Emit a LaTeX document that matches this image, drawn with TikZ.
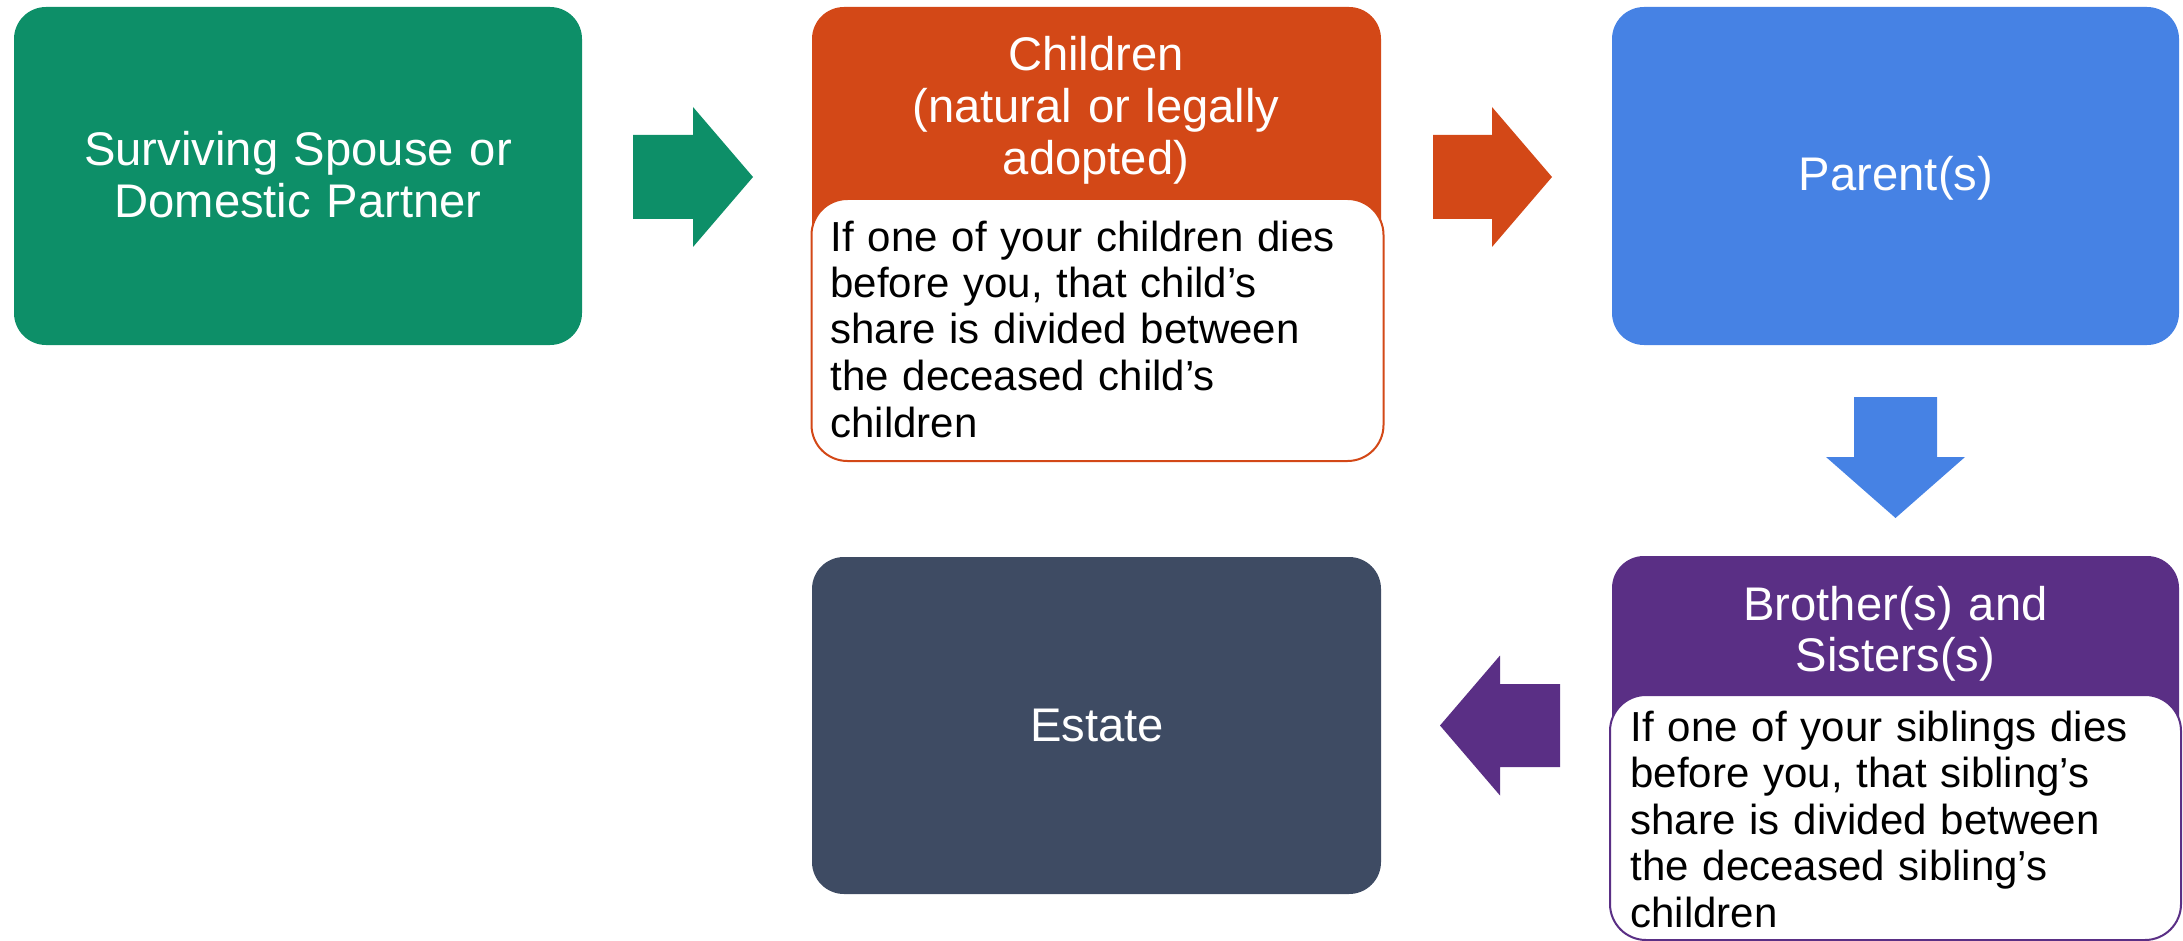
\documentclass[tikz,border=0pt]{standalone}
\usepackage{fontspec}
\setmainfont{Liberation Sans}
\definecolor{cgreen}{RGB}{13,143,104}
\definecolor{corange}{RGB}{211,72,23}
\definecolor{cblue}{RGB}{70,130,228}
\definecolor{cpurple}{RGB}{90,47,133}
\definecolor{cnavy}{RGB}{62,75,99}
\begin{document}
\begin{tikzpicture}[x=0.5pt,y=-0.5pt,
  box/.style={rectangle, rounded corners=16pt, inner sep=0pt, outer sep=0pt, draw=none},
  notebox/.style={rectangle, rounded corners=18pt, inner sep=0pt, outer sep=0pt, fill=white, line width=1pt},
  headtext/.style={text=white, font=\fontsize{23.6pt}{25.9pt}\selectfont, align=center, text width=270pt, inner sep=0pt, anchor=base},
  bodytext/.style={text=black, font=\fontsize{21pt}{23.25pt}\selectfont, align=left, text width=280pt, inner sep=0pt, anchor=base west},
]
\useasboundingbox (0,0) rectangle (2183,941);

% boxes
\node[box, fill=cgreen, minimum width=284pt, minimum height=169pt] (spouse) at (298,176) {};
\node[box, fill=corange, minimum width=284.5pt, minimum height=224pt] (children) at (1096.5,231) {};
\node[notebox, draw=corange, minimum width=286pt, minimum height=131pt] (childnote) at (1097.5,330) {};
\node[box, fill=cblue, minimum width=283.5pt, minimum height=169pt] (parents) at (1895.5,176) {};
\node[box, fill=cpurple, minimum width=283.5pt, minimum height=187pt] (siblings) at (1895.5,743) {};
\node[notebox, draw=cpurple, minimum width=285.5pt, minimum height=122.5pt] (sibnote) at (1895.5,817.5) {};
\node[box, fill=cnavy, minimum width=284.5pt, minimum height=168.5pt] (estate) at (1096.5,725.5) {};

% texts
\node[headtext] (spousetxt) at (298,166) {Surviving Spouse or\\Domestic Partner};
\node[headtext] (childtxt) at (1096,71) {Children\\(natural or legally\\adopted)};
\node[bodytext] (childnotetxt) at (830,251) {If one of your children dies\\before you, that child’s\\share is divided between\\the deceased child’s\\children};
\node[headtext] (parenttxt) at (1896,191) {Parent(s)};
\node[headtext] (sibtxt) at (1895.5,620) {Brother(s) and\\Sisters(s)};
\node[bodytext] (sibnotetxt) at (1630,741) {If one of your siblings dies\\before you, that sibling’s\\share is divided between\\the deceased sibling’s\\children};
\node[headtext] (estatetxt) at (1097,741) {Estate};

% block arrows
\fill[cgreen] (633,135) -- (693,135) -- (693,107) -- (753,177) -- (693,247) -- (693,219) -- (633,219) -- cycle;
\fill[corange] (1433,135) -- (1492,135) -- (1492,107) -- (1552,177) -- (1492,247) -- (1492,219) -- (1433,219) -- cycle;
\fill[cblue] (1854,397) -- (1937,397) -- (1937,457) -- (1965,457) -- (1895.5,518) -- (1826,457) -- (1854,457) -- cycle;
\fill[cpurple] (1560,684) -- (1500,684) -- (1500,655.5) -- (1440,725.5) -- (1500,795.5) -- (1500,767) -- (1560,767) -- cycle;
\end{tikzpicture}
\end{document}
